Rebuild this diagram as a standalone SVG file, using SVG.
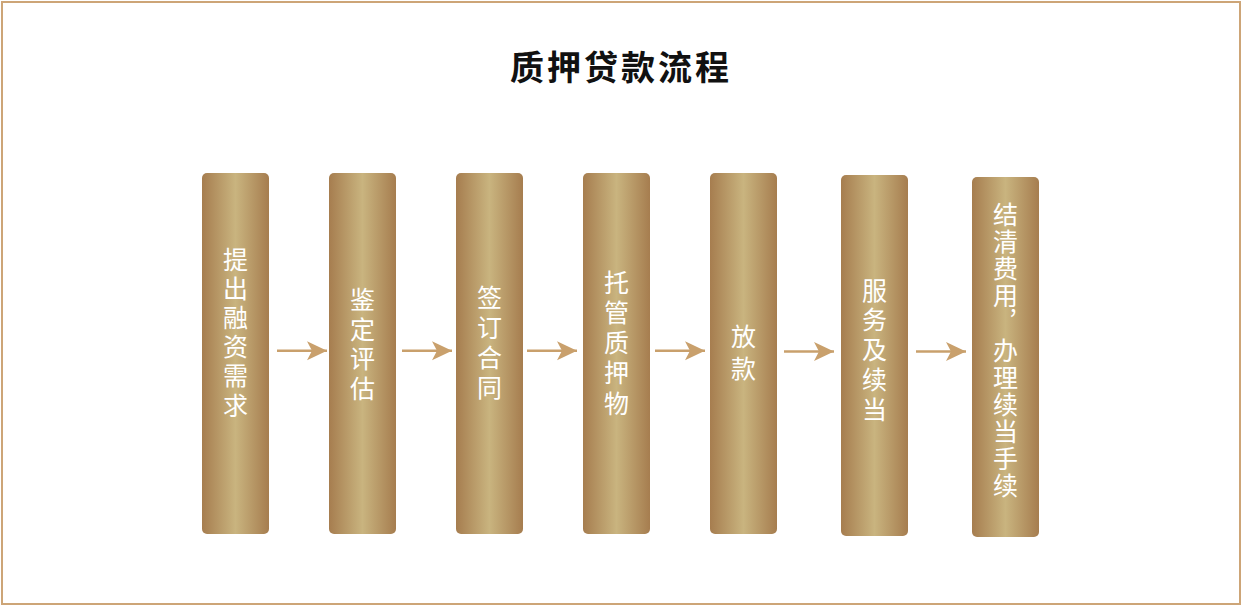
<svg xmlns="http://www.w3.org/2000/svg" width="1242" height="607" viewBox="0 0 1242 607">
<defs>
<linearGradient id="gold" x1="0" y1="0" x2="1" y2="0">
<stop offset="0" stop-color="#a67d4f"/>
<stop offset="0.5" stop-color="#c9b47f"/>
<stop offset="1" stop-color="#a67d4f"/>
</linearGradient>
<marker id="ah" markerUnits="userSpaceOnUse" markerWidth="20" markerHeight="20" refX="20" refY="9.5" orient="auto" viewBox="0 0 20 19">
<path d="M0,0 L20,9.5 L0,19 L5,9.5 Z" fill="#c9a06c"/>
</marker>
<style>
.bar{fill:url(#gold);}
.lbl{font-family:"Noto Sans CJK SC","Noto Sans",sans-serif;font-size:25px;fill:#ffffff;text-anchor:middle;}
.title{font-family:"Noto Sans CJK SC","Noto Sans",sans-serif;font-size:34px;font-weight:700;fill:#111111;text-anchor:middle;letter-spacing:3px;}
.conn{stroke:#c9a06c;stroke-width:2.5;fill:none;marker-end:url(#ah);}
</style>
</defs>
<rect x="2" y="2" width="1238" height="602" fill="#ffffff" stroke="#cda577" stroke-width="2"/>
<text class="title" x="621" y="80">质押贷款流程</text>

<g id="n1">
<rect class="bar" x="202" y="173" width="67" height="361" rx="5"/>
<text class="lbl"><tspan x="235.5" y="269">提</tspan><tspan x="235.5" y="298.1">出</tspan><tspan x="235.5" y="327.2">融</tspan><tspan x="235.5" y="356.3">资</tspan><tspan x="235.5" y="385.4">需</tspan><tspan x="235.5" y="414.5">求</tspan></text>
</g>
<g id="n2">
<rect class="bar" x="329" y="173" width="67" height="361" rx="5"/>
<text class="lbl"><tspan x="362.5" y="309">鉴</tspan><tspan x="362.5" y="338.5">定</tspan><tspan x="362.5" y="368">评</tspan><tspan x="362.5" y="397.5">估</tspan></text>
</g>
<g id="n3">
<rect class="bar" x="456" y="173" width="67" height="361" rx="5"/>
<text class="lbl"><tspan x="489.5" y="306.5">签</tspan><tspan x="489.5" y="336.5">订</tspan><tspan x="489.5" y="366.5">合</tspan><tspan x="489.5" y="396.5">同</tspan></text>
</g>
<g id="n4">
<rect class="bar" x="583" y="173" width="67" height="361" rx="5"/>
<text class="lbl"><tspan x="616.5" y="291.5">托</tspan><tspan x="616.5" y="321.8">管</tspan><tspan x="616.5" y="352">质</tspan><tspan x="616.5" y="382.3">押</tspan><tspan x="616.5" y="412.5">物</tspan></text>
</g>
<g id="n5">
<rect class="bar" x="710" y="173" width="67" height="361" rx="5"/>
<text class="lbl"><tspan x="743.5" y="345.5">放</tspan><tspan x="743.5" y="377.5">款</tspan></text>
</g>
<g id="n6">
<rect class="bar" x="841" y="175" width="67" height="361" rx="5"/>
<text class="lbl"><tspan x="874.5" y="299.5">服</tspan><tspan x="874.5" y="329.3">务</tspan><tspan x="874.5" y="359.2">及</tspan><tspan x="874.5" y="389">续</tspan><tspan x="874.5" y="418.8">当</tspan></text>
</g>
<g id="n7">
<rect class="bar" x="972" y="177" width="67" height="360" rx="5"/>
<text class="lbl"><tspan x="1005.5" y="224">结</tspan><tspan x="1005.5" y="251.1">清</tspan><tspan x="1005.5" y="278.2">费</tspan><tspan x="1005.5" y="305.3">用</tspan><tspan x="1019" y="314" style="font-size:22px">，</tspan><tspan x="1005.5" y="359.5">办</tspan><tspan x="1005.5" y="386.6">理</tspan><tspan x="1005.5" y="413.7">续</tspan><tspan x="1005.5" y="440.8">当</tspan><tspan x="1005.5" y="467.9">手</tspan><tspan x="1005.5" y="495">续</tspan></text>
</g>

<g id="connectors">
<line class="conn" x1="277" y1="350.7" x2="327" y2="350.7"/>
<line class="conn" x1="402" y1="350.7" x2="452" y2="350.7"/>
<line class="conn" x1="527" y1="350.7" x2="577" y2="350.7"/>
<line class="conn" x1="655" y1="350.7" x2="705" y2="350.7"/>
<line class="conn" x1="784" y1="351.5" x2="834" y2="351.5"/>
<line class="conn" x1="916" y1="351.5" x2="966" y2="351.5"/>
</g>
</svg>
